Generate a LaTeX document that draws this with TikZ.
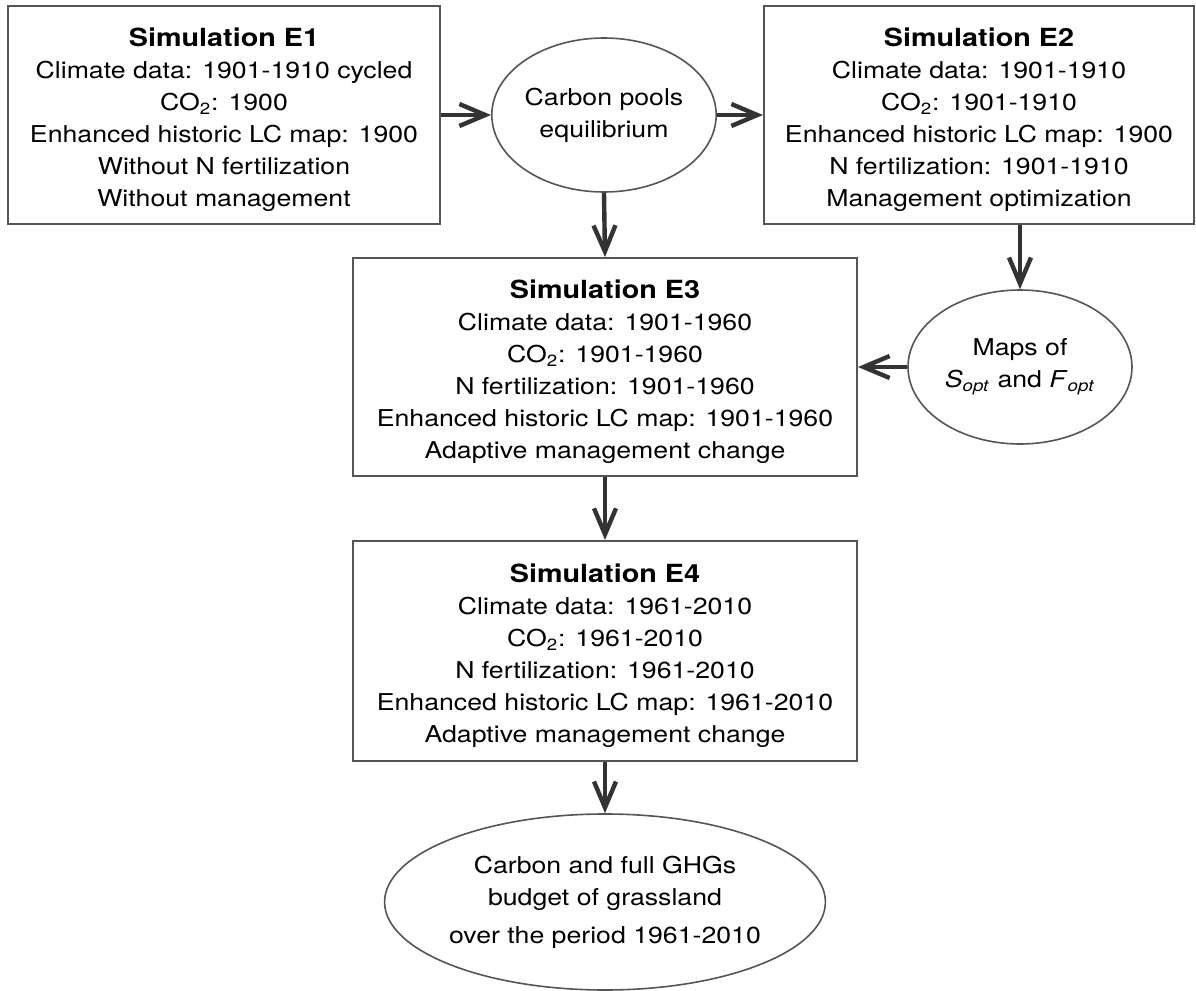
\documentclass[tikz,border=0pt]{standalone}
\usepackage{fontspec}
\setmainfont[FakeStretch=1.15]{TeX Gyre Heros}
\usetikzlibrary{arrows.meta, shapes.geometric}

\definecolor{boxgray}{HTML}{555555}
\definecolor{arrowgray}{HTML}{333333}

\newcommand{\simtitle}[1]{\rule{0pt}{14pt}{\fontsize{12.5}{16}\selectfont\bfseries #1}}

\begin{document}
\begin{tikzpicture}[x=0.5pt, y=-0.5pt,
    every node/.style={font=\fontsize{11.6}{16}\selectfont, align=center, inner sep=0pt},
    simbox/.style={draw=boxgray, line width=1pt, rectangle, minimum height=109pt},
    resultoval/.style={draw=boxgray, line width=0.8pt, ellipse},
    flow/.style={draw=arrowgray, line width=2.2pt, -{Straight Barb[length=13pt, width=11pt]}}]

        \useasboundingbox (0,0) rectangle (1196,991);

        \node[simbox, minimum width=216pt] (E1) at (224,115)
            {\simtitle{Simulation E1}\\ Climate data: 1901-1910 cycled\\ CO\textsubscript{2}: 1900\\
             Enhanced historic LC map: 1900\\ Without N fertilization\\ Without management};
        \node[resultoval, minimum width=112pt, minimum height=77pt] (pools) at (604,115)
            {Carbon pools\\ equilibrium};
        \node[simbox, minimum width=215pt] (E2) at (979,115)
            {\simtitle{Simulation E2}\\ Climate data: 1901-1910\\ CO\textsubscript{2}: 1901-1910\\
             Enhanced historic LC map: 1900\\ N fertilization: 1901-1910\\ Management optimization};
        \node[simbox, minimum width=252pt] (E3) at (605,367)
            {\simtitle{Simulation E3}\\ Climate data: 1901-1960\\ CO\textsubscript{2}: 1901-1960\\
             N fertilization: 1901-1960\\ Enhanced historic LC map: 1901-1960\\ Adaptive management change};
        \node[resultoval, minimum width=112pt, minimum height=77pt] (maps) at (1020,367)
            {Maps of\\ \textit{S}\textsubscript{\textit{opt}} and \textit{F}\textsubscript{\textit{opt}}};
        \node[simbox, minimum width=252pt, minimum height=110pt] (E4) at (605,651)
            {\simtitle{Simulation E4}\\ Climate data: 1961-2010\\ CO\textsubscript{2}: 1961-2010\\
             N fertilization: 1961-2010\\ Enhanced historic LC map: 1961-2010\\ Adaptive management change};
        \node[resultoval, minimum width=193pt, minimum height=88pt] (budget) at (605,902)
            {Carbon and full GHGs\\ budget of grassland\\[3pt] over the period 1961-2010};

        \draw[flow] (E1.east) -- (pools.west);
        \draw[flow] (pools.east) -- (E2.west);
        \draw[flow] (pools.south) -- (E3.north);
        \draw[flow] (maps.north |- E2.south) -- (maps.north);
        \draw[flow] (maps.west) -- (E3.east |- maps.west);
        \draw[flow] (E3.south) -- (E4.north);
        \draw[flow] (E4.south) -- (budget.north);
    \end{tikzpicture}
\end{document}
